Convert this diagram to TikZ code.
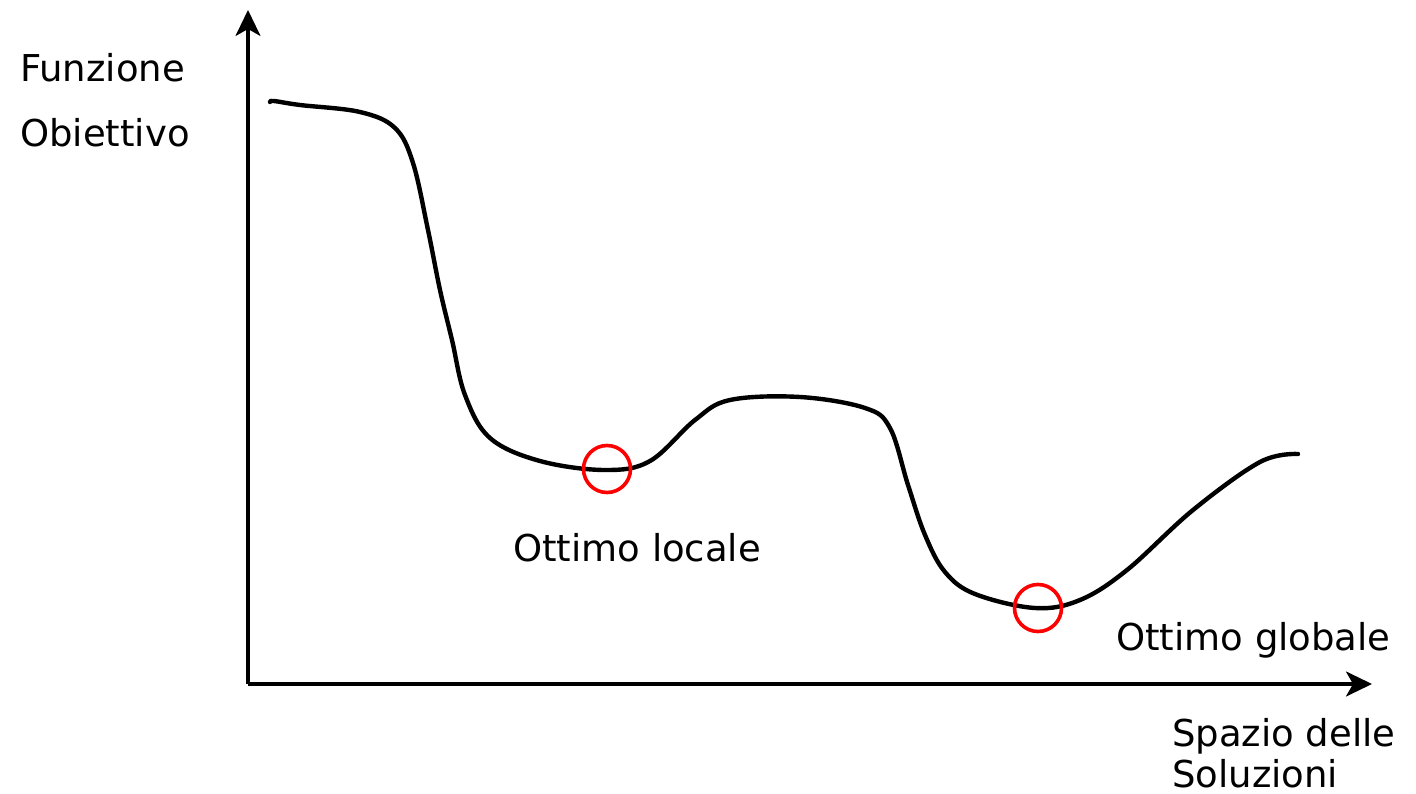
\documentclass[tikz,border=0pt]{standalone}
\usepackage{fontspec}
\setmainfont{DejaVu Sans}
\usetikzlibrary{arrows.meta}
\begin{document}
\begin{tikzpicture}[x=1pt,y=-1pt,
  axis/.style={line width=3.2pt,-{Stealth[length=26pt,width=25pt,inset=7pt]}},
  curve/.style={line width=4.4pt,line cap=round,line join=round},
  marker/.style={draw=red,line width=3.6pt,circle,minimum size=47pt,inner sep=0pt},
  lbl/.style={font=\fontsize{37}{44}\selectfont,anchor=base west,inner sep=0pt}]
\useasboundingbox (0,0) rectangle (1416,794);
% axes
\coordinate (O) at (248,684);
\coordinate (ytip) at (248,10);
\coordinate (xtip) at (1372,684);
\draw[axis] (O) -- (ytip);
\draw[axis] (O) -- (xtip);
% objective function
\draw[curve] plot[smooth,tension=0.6] coordinates {
  (270,102) (274,101) (300,105) (360,112) (395,128) (413,163) (428,230)
  (440,290) (452,340) (465,395) (490,438) (540,461) (605,470) (650,461)
  (695,420) (730,400) (800,397) (865,408) (890,428) (908,485) (925,535)
  (945,572) (975,594) (1035,608) (1080,600) (1127,570) (1193,510)
  (1260,462) (1298,454)};
% optima
\node[marker] (loc) at (607,469) {};
\node[marker] (glob) at (1038,608) {};
% labels
\node[lbl] (f1) at (20,82) {Funzione};
\node[lbl] (f2) at (20,147) {Obiettivo};
\node[lbl] (tl) at (513,561) {Ottimo locale};
\node[lbl] (tg) at (1116,650) {Ottimo globale};
\node[lbl] (s1) at (1172,746) {Spazio delle};
\node[lbl] (s2) at (1172,787) {Soluzioni};
\end{tikzpicture}
\end{document}
